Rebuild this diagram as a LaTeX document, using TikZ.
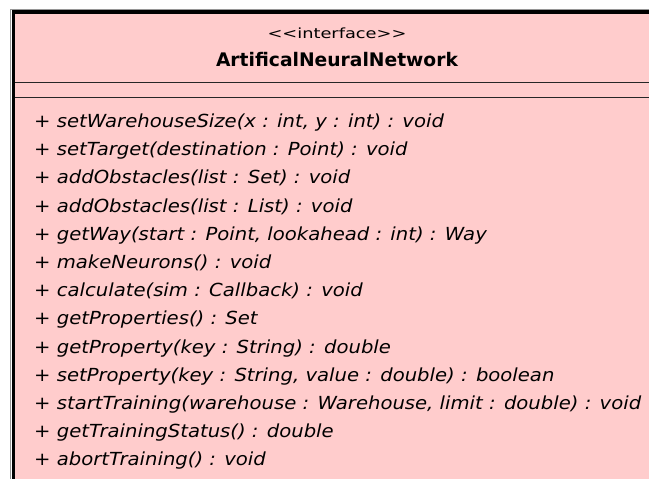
\documentclass[tikz,border=0pt]{standalone}
\usepackage{fontspec}
\setmainfont{DejaVu Sans}
\definecolor{umlfill}{RGB}{255,204,204}
\definecolor{umlrim}{RGB}{150,150,150}
\newcommand{\widetext}[2]{\scalebox{#1}[1]{#2}}
\tikzset{
  classbody/.style={fill=umlfill, draw=black, line width=3.5pt},
  compartment/.style={draw=black!85, line width=1.8pt},
  stereo/.style={anchor=base, inner sep=0pt, font=\fontsize{14}{14}\selectfont},
  classname/.style={anchor=base, inner sep=0pt, font=\fontsize{18.7}{18.7}\selectfont\bfseries},
  operation/.style={anchor=base west, inner sep=0pt, font=\fontsize{18}{18}\selectfont\itshape},
}
\begin{document}
\begin{tikzpicture}[x=1pt, y=-1pt]
  \useasboundingbox (0,0) rectangle (649,479);
  \clip (0,0) rectangle (649,479);
  % class box, running off the right and bottom edges
  \draw[umlrim, line width=1pt] (10.5,520) -- (10.5,9.5) -- (700,9.5);
  \draw[classbody] (13.25,520) -- (13.25,12) -- (700,12) -- (700,520) -- cycle;
  % compartment separators
  \coordinate (sepA) at (15,82.5);
  \coordinate (sepB) at (15,97.5);
  \draw[compartment] (sepA) -- ++(700,0);
  \draw[compartment] (sepB) -- ++(700,0);
  % header
  \node[stereo] (stereotype) at (337,38.5) {\widetext{1.27}{{<}{<}interface{>}{>}}};
  \node[classname] (name) at (337,66.5) {ArtificalNeuralNetwork};
  % operations
  \foreach \txt [count=\i from 0] in {
      {+ setWarehouseSize(x : int, y : int) : void},
      {+ setTarget(destination : Point) : void},
      {+ addObstacles(list : Set) : void},
      {+ addObstacles(list : List) : void},
      {+ getWay(start : Point, lookahead : int) : Way},
      {+ makeNeurons() : void},
      {+ calculate(sim : Callback) : void},
      {+ getProperties() : Set},
      {+ getProperty(key : String) : double},
      {+ setProperty(key : String, value : double) : boolean},
      {+ startTraining(warehouse : Warehouse, limit : double) : void},
      {+ getTrainingStatus() : double},
      {+ abortTraining() : void}}
    \node[operation] (op\i) at (34,127.5+28.2*\i) {\widetext{1.09}{\txt}};
\end{tikzpicture}
\end{document}
